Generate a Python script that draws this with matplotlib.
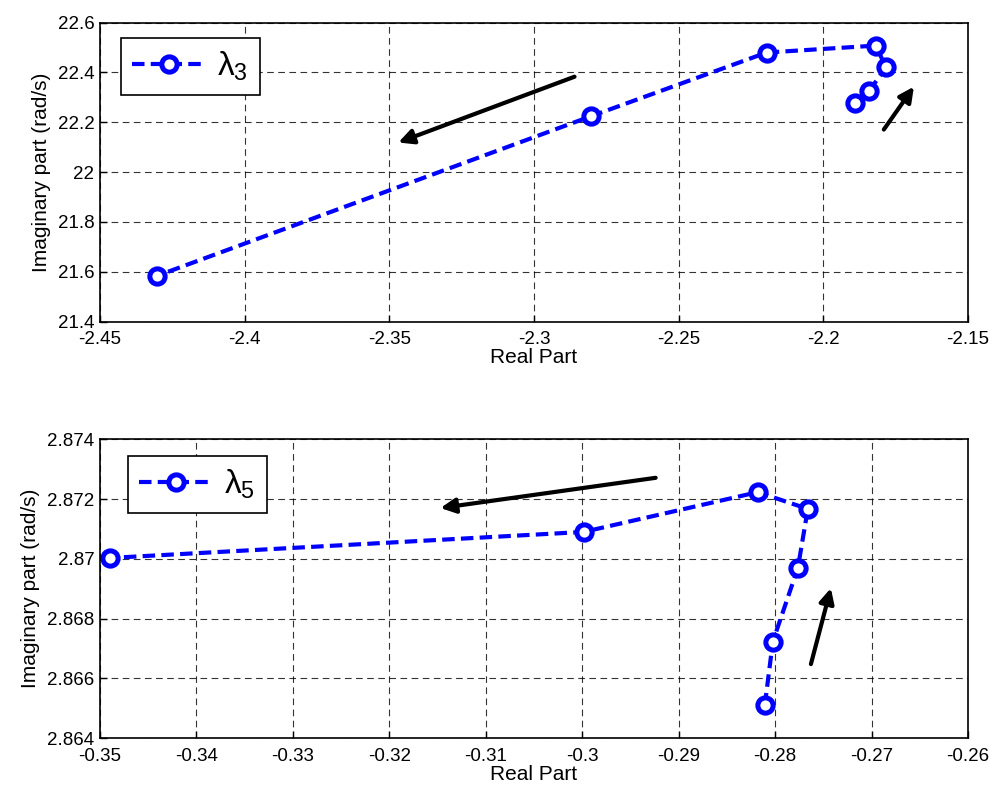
import matplotlib
matplotlib.use("Agg")
import matplotlib.pyplot as plt

plt.rcParams['font.family'] = ['Liberation Sans', 'DejaVu Sans']
plt.rcParams['mathtext.fontset'] = 'custom'
plt.rcParams['mathtext.rm'] = 'Liberation Sans'
plt.rcParams['mathtext.it'] = 'Liberation Sans'

# lambda_3 trajectory
l3_real = [-2.1891, -2.1843, -2.1784, -2.1818, -2.2196, -2.2804, -2.4303]
l3_imag = [22.276, 22.324, 22.420, 22.508, 22.480, 22.224, 21.584]
# lambda_5 trajectory
l5_real = [-0.28107, -0.28024, -0.27764, -0.27661, -0.28180, -0.29986, -0.34896]
l5_imag = [2.8651, 2.86723, 2.8697, 2.87167, 2.87223, 2.8709, 2.87003]

top_xticks = [-2.45, -2.4, -2.35, -2.3, -2.25, -2.2, -2.15]
top_xlabels = ['-2.45', '-2.4', '-2.35', '-2.3', '-2.25', '-2.2', '-2.15']
top_yticks = [21.4, 21.6, 21.8, 22.0, 22.2, 22.4, 22.6]
top_ylabels = ['21.4', '21.6', '21.8', '22', '22.2', '22.4', '22.6']
bot_xticks = [-0.35, -0.34, -0.33, -0.32, -0.31, -0.30, -0.29, -0.28, -0.27, -0.26]
bot_xlabels = ['-0.35', '-0.34', '-0.33', '-0.32', '-0.31', '-0.3', '-0.29', '-0.28', '-0.27', '-0.26']
bot_yticks = [2.864, 2.866, 2.868, 2.870, 2.872, 2.874]
bot_ylabels = ['2.864', '2.866', '2.868', '2.87', '2.872', '2.874']

# arrow annotations (tail -> head) in data coordinates
top_arrows = [((-2.286, 22.383), (-2.3469, 22.119)), ((-2.1791, 22.171), (-2.1687, 22.343))]
bot_arrows = [((-0.29239, 2.87271), (-0.31470, 2.87170)), ((-0.27629, 2.86648), (-0.27422, 2.86902))]

fig = plt.figure(figsize=(9.9, 7.89), dpi=100)
ax1 = fig.add_axes([0.101, 0.5923, 0.8768, 0.379])
ax2 = fig.add_axes([0.101, 0.0643, 0.8768, 0.379])

def style(ax, real, imag, label, xt, xl, yt, yl, arrows, leg_anchor):
    ax.plot(real, imag, linestyle=(0, (3.0, 1.5)), color='#0000ff', lw=3,
            marker='o', markersize=11, markerfacecolor='white',
            markeredgecolor='#0000ff', markeredgewidth=3.6, label=label)
    ax.set_xlim(xt[0], xt[-1])
    ax.set_ylim(yt[0], yt[-1])
    ax.set_xticks(xt)
    ax.set_xticklabels(xl)
    ax.set_yticks(yt)
    ax.set_yticklabels(yl)
    ax.grid(True, color='black', linestyle=(0, (6, 4)), lw=0.8, alpha=0.8)
    ax.set_axisbelow(True)
    ax.tick_params(direction='in', labelsize=13.5, length=5, width=1,
                   top=False, right=False)
    ax.tick_params(axis='x', pad=7)
    ax.tick_params(axis='y', pad=4)
    for s in ax.spines.values():
        s.set_linewidth(1.2)
    ax.set_xlabel('Real Part', fontsize=15, labelpad=0)
    ax.set_ylabel('Imaginary part (rad/s)', fontsize=15, labelpad=5)
    for tail, head in arrows:
        ax.annotate('', xy=head, xytext=tail,
                    arrowprops=dict(arrowstyle='-|>', lw=3, color='black',
                                    mutation_scale=22, shrinkA=0, shrinkB=0))
    leg = ax.legend(loc='upper left', bbox_to_anchor=leg_anchor, fontsize=24,
                    fancybox=False, edgecolor='black', framealpha=1,
                    handlelength=2.2, borderpad=0.35, handletextpad=0.35,
                    borderaxespad=0)
    leg.get_frame().set_linewidth(1.2)

style(ax1, l3_real, l3_imag, r'$\lambda_3$', top_xticks, top_xlabels,
      top_yticks, top_ylabels, top_arrows, (0.024, 0.949))
style(ax2, l5_real, l5_imag, r'$\lambda_5$', bot_xticks, bot_xlabels,
      bot_yticks, bot_ylabels, bot_arrows, (0.032, 0.943))

fig.savefig('out.png', dpi=100)
